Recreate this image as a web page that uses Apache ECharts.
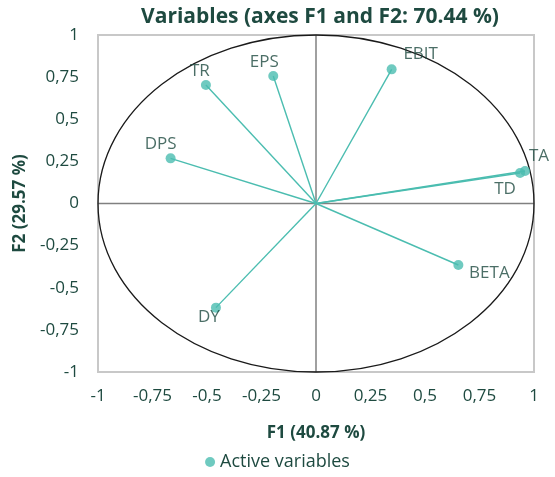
<!DOCTYPE html>
<html>
<head>
<meta charset="utf-8">
<script src="https://cdn.jsdelivr.net/npm/echarts@6/dist/echarts.min.js"></script>
<style>
  html, body { margin: 0; padding: 0; background: #fff; }
  #chart { width: 555px; height: 477px; }
</style>
</head>
<body>
<div id="chart"></div>
<script>
// Correlation circle: loadings of each variable on F1 and F2
const variables = ['TA', 'TD', 'EBIT', 'EPS', 'TR', 'DPS', 'DY', 'BETA'];
const f1 = [0.959, 0.936, 0.347, -0.196, -0.505, -0.667, -0.459, 0.653];
const f2 = [0.193, 0.181, 0.796, 0.757, 0.703, 0.268, -0.618, -0.365];
const axisTicks = [-1, -0.75, -0.5, -0.25, 0, 0.25, 0.5, 0.75, 1];

// label placement offsets (pixels) per variable
const labelOffsets = {
  TA: [14, -15], TD: [-15, 16], EBIT: [29, -15], EPS: [-9, -14],
  TR: [-6, -14], DPS: [-10, -14], DY: [-7, 10], BETA: [31, 8]
};

const textColor = '#1e4a40';
const teal = '#4bbdb0';
const fontFamily = '"Open Sans", sans-serif';

const points = variables.map((name, i) => ({
  name: name,
  value: [f1[i], f2[i]],
  label: { offset: labelOffsets[name] }
}));

const fmt = v => String(v).replace('.', ',');

const chart = echarts.init(document.getElementById('chart'));
chart.setOption({
  animation: false,
  textStyle: { fontFamily: fontFamily },
  title: {
    text: 'Variables (axes F1 and F2: 70.44 %)',
    left: 315, top: 2, textAlign: 'center',
    textStyle: { fontSize: 21, fontWeight: 'bold', color: textColor, fontFamily: fontFamily }
  },
  legend: {
    data: ['Active variables'],
    left: 'center', bottom: 1,
    icon: 'circle', itemWidth: 10, itemHeight: 10, itemGap: 6,
    textStyle: { fontSize: 18, color: textColor, fontFamily: fontFamily }
  },
  grid: {
    left: 98, right: 21, top: 35, bottom: 105,
    show: true, borderColor: '#c8c8c8', borderWidth: 2, backgroundColor: 'transparent'
  },
  xAxis: {
    type: 'value', min: -1, max: 1, interval: 0.25,
    name: 'F1 (40.87 %)', nameLocation: 'middle', nameGap: 53,
    nameTextStyle: { fontSize: 17, fontWeight: 'bold', color: textColor },
    axisLine: { show: false, onZero: false },
    axisTick: { show: false },
    splitLine: { show: false },
    axisLabel: { margin: 16, fontSize: 17, color: textColor, formatter: fmt,
      customValues: axisTicks }
  },
  yAxis: {
    type: 'value', min: -1, max: 1, interval: 0.25,
    name: 'F2 (29.57 %)', nameLocation: 'middle', nameGap: 65, nameRotate: 90,
    nameTextStyle: { fontSize: 17, fontWeight: 'bold', color: textColor },
    axisLine: { show: false, onZero: false },
    axisTick: { show: false },
    splitLine: { show: false },
    axisLabel: { margin: 19, fontSize: 17, color: textColor, formatter: fmt,
      customValues: axisTicks }
  },
  series: [
    {
      // unit circle and the zero axes
      type: 'custom',
      silent: true,
      data: [[0, 0]],
      renderItem: function (params, api) {
        const c = api.coord([0, 0]);
        const px = api.coord([1, 0]);
        const py = api.coord([0, 1]);
        const left = api.coord([-1, 0]);
        const bottom = api.coord([0, -1]);
        return {
          type: 'group',
          children: [
            { type: 'line', shape: { x1: left[0], y1: c[1], x2: px[0], y2: c[1] },
              style: { stroke: '#808080', lineWidth: 1.5 } },
            { type: 'line', shape: { x1: c[0], y1: py[1], x2: c[0], y2: bottom[1] },
              style: { stroke: '#808080', lineWidth: 1.5 } },
            { type: 'ellipse', shape: { cx: c[0], cy: c[1], rx: px[0] - c[0], ry: c[1] - py[1] },
              style: { fill: 'none', stroke: '#1a1a1a', lineWidth: 1.3 } }
          ]
        };
      },
      z: 1
    },
    {
      // vectors from the origin to each variable
      type: 'custom',
      silent: true,
      data: variables.map((n, i) => [f1[i], f2[i]]),
      renderItem: function (params, api) {
        const o = api.coord([0, 0]);
        const p = api.coord([api.value(0), api.value(1)]);
        return {
          type: 'line',
          shape: { x1: o[0], y1: o[1], x2: p[0], y2: p[1] },
          style: { stroke: teal, lineWidth: 1.4 }
        };
      },
      z: 2
    },
    {
      name: 'Active variables',
      type: 'scatter',
      symbol: 'circle',
      symbolSize: 10,
      itemStyle: { color: teal },
      data: points,
      label: {
        show: true, position: 'inside',
        formatter: p => p.name,
        fontSize: 17, color: textColor, fontFamily: fontFamily
      },
      z: 3
    }
  ]
});
</script>
</body>
</html>
